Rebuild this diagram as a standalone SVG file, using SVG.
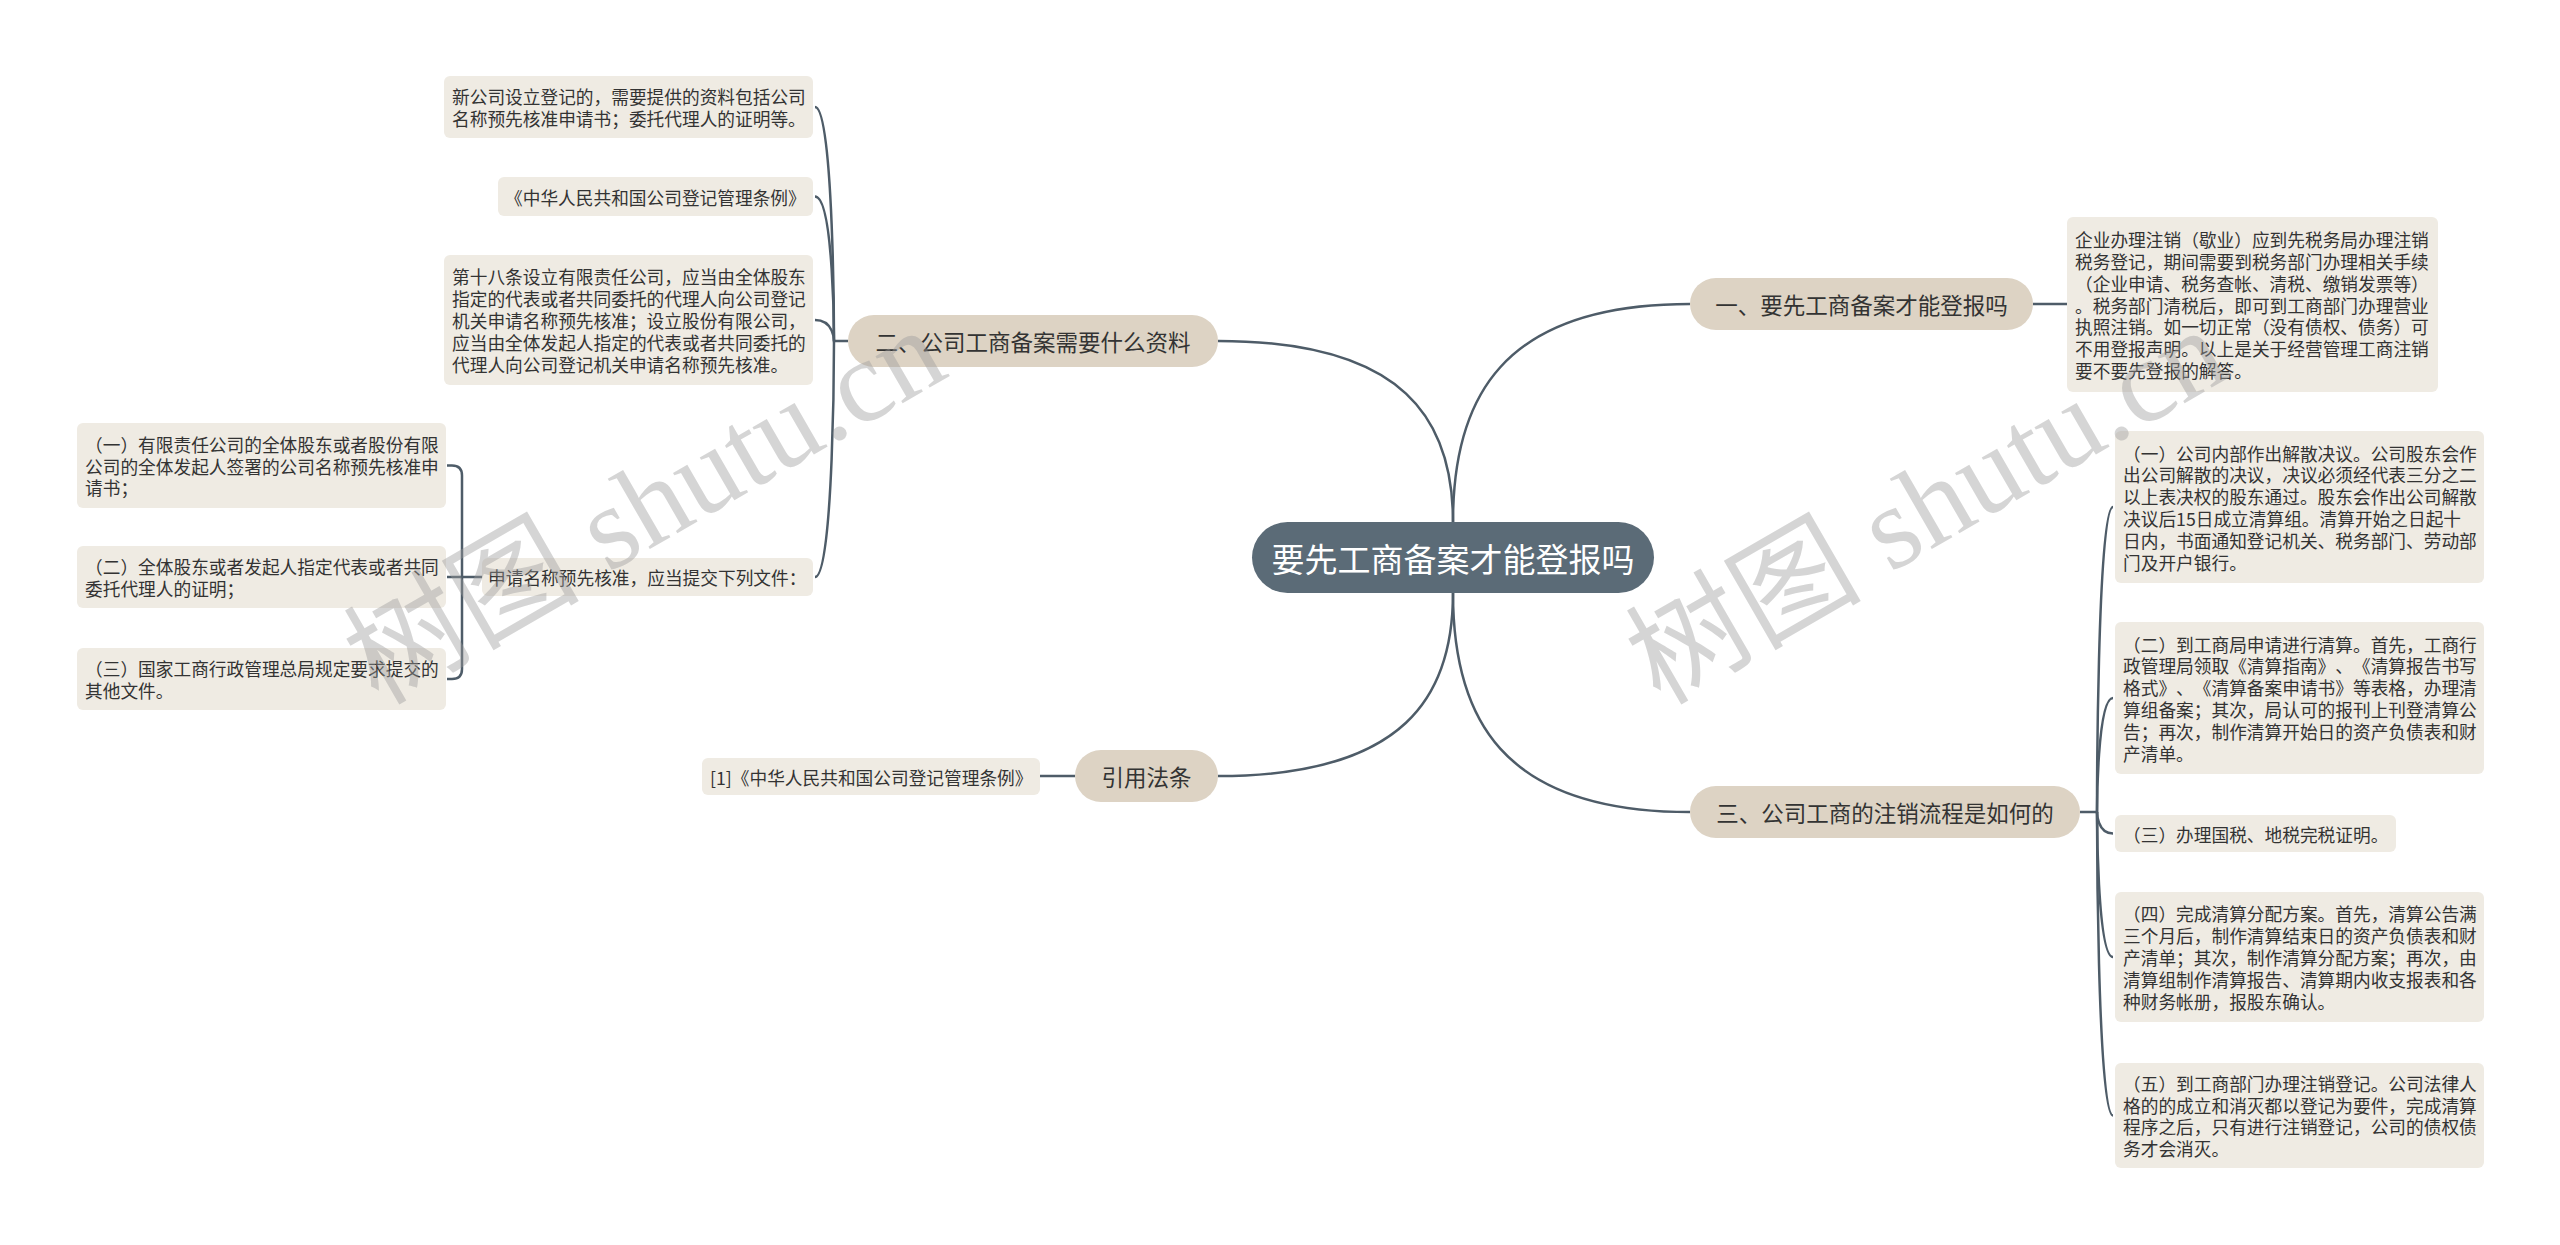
<svg xmlns="http://www.w3.org/2000/svg" width="2560" height="1245" viewBox="0 0 2560 1245">
<style>
text{font-family:"Noto Sans CJK SC","Liberation Sans",sans-serif;dominant-baseline:central;text-spacing-trim:space-all;font-feature-settings:"chws" 0,"halt" 0}
.leaf rect{fill:#efebe3}
.leaf text{font-size:17.7px;fill:#333}
.branch rect{fill:#ddd3c4}
.branch text{font-size:22.5px;fill:#333;text-anchor:middle}
.root rect{fill:#5b6b77}
.root text{font-size:33px;fill:#fff;text-anchor:middle}
.conn path{fill:none;stroke:#4e5c68;stroke-width:2.5}
.wm{font-family:"Liberation Serif","Noto Sans CJK SC",serif;font-size:118px;fill:#9a9a9a;fill-opacity:0.42;dominant-baseline:auto}
</style>
<rect width="2560" height="1245" fill="#fff"/>
<g id="connectors" class="conn">
<path d="M1453 522 C1453 400 1500 304 1690 304"/>
<path d="M1453 522 C1453 421 1406 341 1218 341"/>
<path d="M1453 593 C1453 716 1500 812 1690 812"/>
<path d="M1453 593 C1453 695 1406 776 1218 776"/>
<path d="M2033 304 H2067"/>
<path d="M1075 776 H1040"/>
<path d="M848 341 H834 C834 341 834 107 815 107"/>
<path d="M834 341 C834 341 834 196.5 815 196.5"/>
<path d="M834 341 C834 341 834 320 815 320"/>
<path d="M834 341 C834 341 834 577 815 577"/>
<path d="M482 577 H462 V475.5 Q462 465.5 452 465.5 H447"/>
<path d="M462 577 H447"/>
<path d="M462 577 V669 Q462 679 452 679 H447"/>
<path d="M2080 812 H2097 C2097 812 2097 507 2113 507"/>
<path d="M2097 812 C2097 812 2097 698 2113 698"/>
<path d="M2097 812 C2097 812 2097 833.5 2113 833.5"/>
<path d="M2097 812 C2097 812 2097 957 2113 957"/>
<path d="M2097 812 C2097 812 2097 1115.5 2113 1115.5"/>
</g>
<g id="root" class="root"><rect x="1252" y="522" width="402" height="71" rx="35.5"/><text x="1453" y="557.5">要先工商备案才能登报吗</text></g>
<g id="b1" class="branch"><rect x="1690" y="278" width="343" height="52" rx="26"/><text x="1861.5" y="304">一、要先工商备案才能登报吗</text></g>
<g id="b2" class="branch"><rect x="848" y="315" width="370" height="52" rx="26"/><text x="1033" y="341">二、公司工商备案需要什么资料</text></g>
<g id="b3" class="branch"><rect x="1690" y="786" width="390" height="52" rx="26"/><text x="1885" y="812">三、公司工商的注销流程是如何的</text></g>
<g id="b4" class="branch"><rect x="1075" y="750" width="143" height="52" rx="26"/><text x="1146.5" y="776">引用法条</text></g>
<g id="l1" class="leaf"><rect x="444" y="76" width="369" height="62" rx="6"/>
<text x="452" y="96">新公司设立登记的，需要提供的资料包括公司</text>
<text x="452" y="118">名称预先核准申请书；委托代理人的证明等。</text></g>
<g id="l2" class="leaf"><rect x="498" y="177" width="315" height="39" rx="6"/>
<text x="505" y="196.5">《中华人民共和国公司登记管理条例》</text></g>
<g id="l3" class="leaf"><rect x="444" y="255" width="369" height="130" rx="6"/>
<text x="452" y="276.4">第十八条设立有限责任公司，应当由全体股东</text>
<text x="452" y="298.2">指定的代表或者共同委托的代理人向公司登记</text>
<text x="452" y="320">机关申请名称预先核准；设立股份有限公司，</text>
<text x="452" y="341.8">应当由全体发起人指定的代表或者共同委托的</text>
<text x="452" y="363.6">代理人向公司登记机关申请名称预先核准。</text></g>
<g id="l4" class="leaf"><rect x="482" y="558" width="331" height="38" rx="6"/>
<text x="488" y="577">申请名称预先核准，应当提交下列文件：</text></g>
<g id="l5" class="leaf"><rect x="77" y="423" width="369" height="85" rx="6"/>
<text x="85" y="443.7">（一）有限责任公司的全体股东或者股份有限</text>
<text x="85" y="465.5">公司的全体发起人签署的公司名称预先核准申</text>
<text x="85" y="487.3">请书；</text></g>
<g id="l6" class="leaf"><rect x="77" y="546" width="369" height="62" rx="6"/>
<text x="85" y="566.1">（二）全体股东或者发起人指定代表或者共同</text>
<text x="85" y="587.9">委托代理人的证明；</text></g>
<g id="l7" class="leaf"><rect x="77" y="648" width="369" height="62" rx="6"/>
<text x="85" y="668.1">（三）国家工商行政管理总局规定要求提交的</text>
<text x="85" y="689.9">其他文件。</text></g>
<g id="l8" class="leaf"><rect x="702" y="758" width="338" height="37" rx="6"/>
<text x="710" y="776.5">[1]《中华人民共和国公司登记管理条例》</text></g>
<g id="r1" class="leaf"><rect x="2067" y="217" width="371" height="175" rx="6"/>
<text x="2075" y="239.1">企业办理注销（歇业）应到先税务局办理注销</text>
<text x="2075" y="260.9">税务登记，期间需要到税务部门办理相关手续</text>
<text x="2075" y="282.7">（企业申请、税务查帐、清税、缴销发票等）</text>
<text x="2075" y="304.5">。税务部门清税后，即可到工商部门办理营业</text>
<text x="2075" y="326.3">执照注销。如一切正常（没有债权、债务）可</text>
<text x="2075" y="348.1">不用登报声明。以上是关于经营管理工商注销</text>
<text x="2075" y="369.9">要不要先登报的解答。</text></g>
<g id="r2" class="leaf"><rect x="2115" y="431" width="369" height="152" rx="6"/>
<text x="2123" y="452.5">（一）公司内部作出解散决议。公司股东会作</text>
<text x="2123" y="474.3">出公司解散的决议，决议必须经代表三分之二</text>
<text x="2123" y="496.1">以上表决权的股东通过。股东会作出公司解散</text>
<text x="2123" y="517.9">决议后15日成立清算组。清算开始之日起十</text>
<text x="2123" y="539.7">日内，书面通知登记机关、税务部门、劳动部</text>
<text x="2123" y="561.5">门及开户银行。</text></g>
<g id="r3" class="leaf"><rect x="2115" y="622" width="369" height="152" rx="6"/>
<text x="2123" y="643.5">（二）到工商局申请进行清算。首先，工商行</text>
<text x="2123" y="665.3">政管理局领取《清算指南》、《清算报告书写</text>
<text x="2123" y="687.1">格式》、《清算备案申请书》等表格，办理清</text>
<text x="2123" y="708.9">算组备案；其次，局认可的报刊上刊登清算公</text>
<text x="2123" y="730.7">告；再次，制作清算开始日的资产负债表和财</text>
<text x="2123" y="752.5">产清单。</text></g>
<g id="r4" class="leaf"><rect x="2115" y="815" width="281" height="37" rx="6"/>
<text x="2123" y="833.5">（三）办理国税、地税完税证明。</text></g>
<g id="r5" class="leaf"><rect x="2115" y="892" width="369" height="130" rx="6"/>
<text x="2123" y="913.4">（四）完成清算分配方案。首先，清算公告满</text>
<text x="2123" y="935.2">三个月后，制作清算结束日的资产负债表和财</text>
<text x="2123" y="957">产清单；其次，制作清算分配方案；再次，由</text>
<text x="2123" y="978.8">清算组制作清算报告、清算期内收支报表和各</text>
<text x="2123" y="1000.6">种财务帐册，报股东确认。</text></g>
<g id="r6" class="leaf"><rect x="2115" y="1063" width="369" height="105" rx="6"/>
<text x="2123" y="1082.8">（五）到工商部门办理注销登记。公司法律人</text>
<text x="2123" y="1104.6">格的的成立和消灭都以登记为要件，完成清算</text>
<text x="2123" y="1126.4">程序之后，只有进行注销登记，公司的债权债</text>
<text x="2123" y="1148.2">务才会消灭。</text></g>
<g id="watermark">
<text class="wm" x="378" y="706" transform="rotate(-30 378 706)">树图 shutu.cn</text>
<text class="wm" x="1660" y="706" transform="rotate(-30 1660 706)">树图 shutu.cn</text>
</g>
</svg>
